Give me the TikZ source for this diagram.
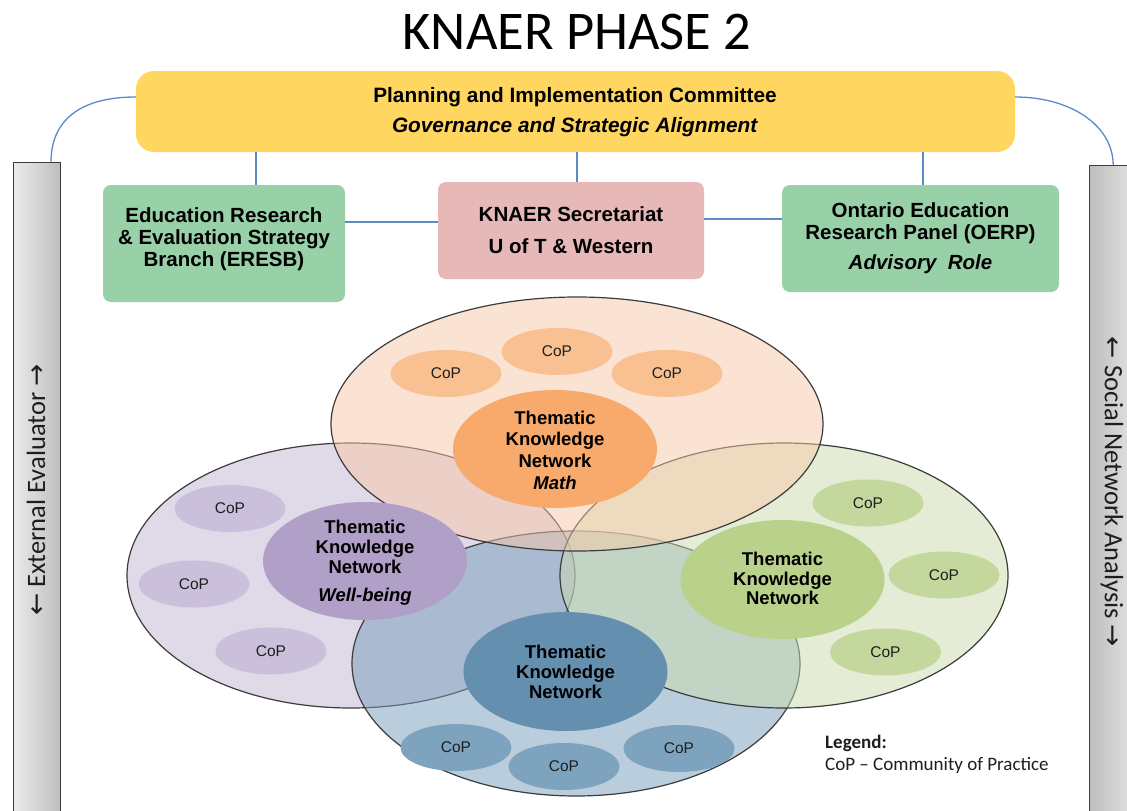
\documentclass[tikz,border=0pt]{standalone}
\usepackage{fontspec}
\setmainfont{Liberation Sans}
\newfontfamily\calfont{Carlito}
\newfontfamily\arrfont{DejaVu Sans}
\usetikzlibrary{shapes.geometric}
\definecolor{ybox}{RGB}{254,214,96}
\definecolor{gbox}{RGB}{152,208,168}
\definecolor{pbox}{RGB}{230,185,184}
\definecolor{connblue}{RGB}{91,139,201}
\definecolor{ellborder}{RGB}{60,60,60}
\definecolor{peachB}{RGB}{249,201,169}
\definecolor{purpleB}{RGB}{193,181,211}
\definecolor{greenB}{RGB}{203,219,173}
\definecolor{blueB}{RGB}{117,157,187}
\definecolor{mathT}{RGB}{248,170,108}
\definecolor{wellT}{RGB}{176,160,200}
\definecolor{greenT}{RGB}{186,209,140}
\definecolor{blueT}{RGB}{100,143,175}
\definecolor{mathC}{RGB}{249,192,145}
\definecolor{wellC}{RGB}{203,192,219}
\definecolor{greenC}{RGB}{196,215,156}
\definecolor{blueC}{RGB}{126,163,191}
\definecolor{txtdark}{RGB}{30,30,30}
\begin{document}
\begin{tikzpicture}[x=1pt,y=-1pt,
  conn/.style={draw=connblue, line width=1.3pt},
  boxtxt/.style={font=\fontsize{20.5}{22}\selectfont\bfseries, align=center, inner sep=0},
  rbox/.style={rounded corners=8pt, inner sep=0, minimum width=#1},
  bigell/.style={ellipse, draw=ellborder, line width=1.2pt, fill opacity=0.5, inner sep=0, minimum width=448pt, minimum height=265pt},
  tkn/.style={ellipse, inner sep=0, minimum width=204pt, minimum height=118pt},
  tkntxt/.style={align=center, inner sep=0, font=\fontsize{18.5}{19.7}\selectfont\bfseries},
  cop/.style={ellipse, inner sep=0, minimum width=111pt, minimum height=47pt, font=\fontsize{15.5}{18}\selectfont, text=txtdark},
  bar/.style={rectangle, draw=ellborder, line width=1.4pt, inner sep=0, minimum width=47pt, minimum height=700pt},
  side/.style={inner sep=0, font=\calfont\fontsize{26.5}{30}\selectfont, text=txtdark}
]
\useasboundingbox (0,0) rectangle (1127,811);
\begin{scope}
\clip (0,0) rectangle (1127,811);
\fill[white] (0,0) rectangle (1127,811);

% title
\node[inner sep=0, font=\calfont\fontsize{54.5}{60}\selectfont] (title) at (577,32.5) {KNAER PHASE 2};

% side bars
\node[bar, left color={rgb,255:red,235;green,235;blue,235}, right color={rgb,255:red,190;green,190;blue,190}, anchor=north west] (leftbar) at (13,162) {};
\node[bar, left color={rgb,255:red,190;green,190;blue,190}, right color={rgb,255:red,228;green,228;blue,228}, anchor=north west] (rightbar) at (1089,165) {};
\node[side, rotate=90] (lefttxt) at (36,490) {{\arrfont ←} External Evaluator {\arrfont →}};
\node[side, rotate=-90] (righttxt) at (1112,492) {{\arrfont ←} Social Network Analysis {\arrfont →}};

% top boxes
\node[fill=ybox, rounded corners=18pt, minimum width=879pt, minimum height=81pt, inner sep=0] (yellow) at (575.5,111.5) {};
\node[boxtxt, font=\fontsize{20.8}{30}\selectfont\bfseries] (yellowT) at (575,112) {Planning and Implementation Committee\\\textit{Governance and Strategic Alignment}};

\node[fill=gbox, rbox=242pt, minimum height=117pt] (eresb) at (224,243.5) {};
\node[boxtxt] (eresbT) at (224,239) {Education Research\\\& Evaluation Strategy\\Branch (ERESB)};

\node[fill=pbox, rbox=266pt, minimum height=97pt] (secr) at (571,230.5) {};
\node[boxtxt, font=\fontsize{20.5}{32}\selectfont\bfseries] (secrT) at (571,230) {KNAER Secretariat\\U of T \& Western};

\node[fill=gbox, rbox=277pt, minimum height=107pt] (oerp) at (920.5,238.5) {};
\node[boxtxt] (oerpT) at (920.5,238) {Ontario Education\\Research Panel (OERP)\\[8pt]\textit{Advisory\ \ Role}};

% connectors
\draw[conn] (yellow.south -| 256,0) -- (eresb.north -| 256,0);
\draw[conn] (yellow.south -| 577,0) -- (secr.north -| 577,0);
\draw[conn] (yellow.south -| 923,0) -- (oerp.north -| 923,0);
\draw[conn] (eresb.east |- 0,222) -- (secr.west |- 0,222);
\draw[conn] (secr.east |- 0,219) -- (oerp.west |- 0,219);
\draw[conn] (yellow.west |- 0,97) .. controls (78,97) and (51,122) .. (51,0 |- leftbar.north);
\draw[conn] (yellow.east |- 0,97) .. controls (1070,97) and (1113,125) .. (rightbar.north);

% big ellipses
\node[bigell, fill=purpleB] (wellE) at (351,575.5) {};
\node[bigell, fill=blueB] (blueE) at (576,663.5) {};
\node[bigell, fill=greenB] (greenE) at (784,575.5) {};
\node[bigell, fill=peachB, minimum width=492pt, minimum height=254pt] (mathE) at (577,424) {};

% CoPs
\node[cop, fill=mathC] (m1) at (446,373.5) {CoP};
\node[cop, fill=mathC] (m2) at (557,351.5) {CoP};
\node[cop, fill=mathC] (m3) at (667,373.5) {CoP};
\node[cop, fill=wellC] (w1) at (230,508.5) {CoP};
\node[cop, fill=wellC] (w2) at (194,584) {CoP};
\node[cop, fill=wellC] (w3) at (271,651) {CoP};
\node[cop, fill=greenC] (g1) at (868,503) {CoP};
\node[cop, fill=greenC] (g2) at (944,575) {CoP};
\node[cop, fill=greenC] (g3) at (885.5,652) {CoP};
\node[cop, fill=blueC] (b1) at (456,747.5) {CoP};
\node[cop, fill=blueC] (b2) at (564,766.5) {CoP};
\node[cop, fill=blueC] (b3) at (679,748.5) {CoP};

% thematic knowledge networks
\node[tkn, fill=mathT] (mathN) at (555,449) {};
\node[tkntxt, font=\fontsize{18.5}{21.7}\selectfont\bfseries] (mathNT) at (555,450) {Thematic\\Knowledge\\Network\\\textit{Math}};
\node[tkn, fill=wellT] (wellN) at (365,561) {};
\node[tkntxt] (wellNT) at (365,563) {Thematic\\Knowledge\\Network\\[9pt]\textit{Well-being}};
\node[tkn, fill=greenT, minimum height=119pt] (greenN) at (782.5,579.5) {};
\node[tkntxt] (greenNT) at (782.5,578.5) {Thematic\\Knowledge\\Network};
\node[tkn, fill=blueT, minimum height=119pt] (blueN) at (565.5,671.5) {};
\node[tkntxt] (blueNT) at (565.5,672) {Thematic\\Knowledge\\Network};

% legend
\node[anchor=west, inner sep=0, font=\calfont\bfseries\fontsize{19}{21}\selectfont, text=txtdark] (legend) at (825,743) {Legend:};
\node[anchor=west, inner sep=0, font=\calfont\fontsize{19}{21}\selectfont, text=txtdark] (legend2) at (825,765) {CoP – Community of Practice};
\end{scope}
\end{tikzpicture}
\end{document}
